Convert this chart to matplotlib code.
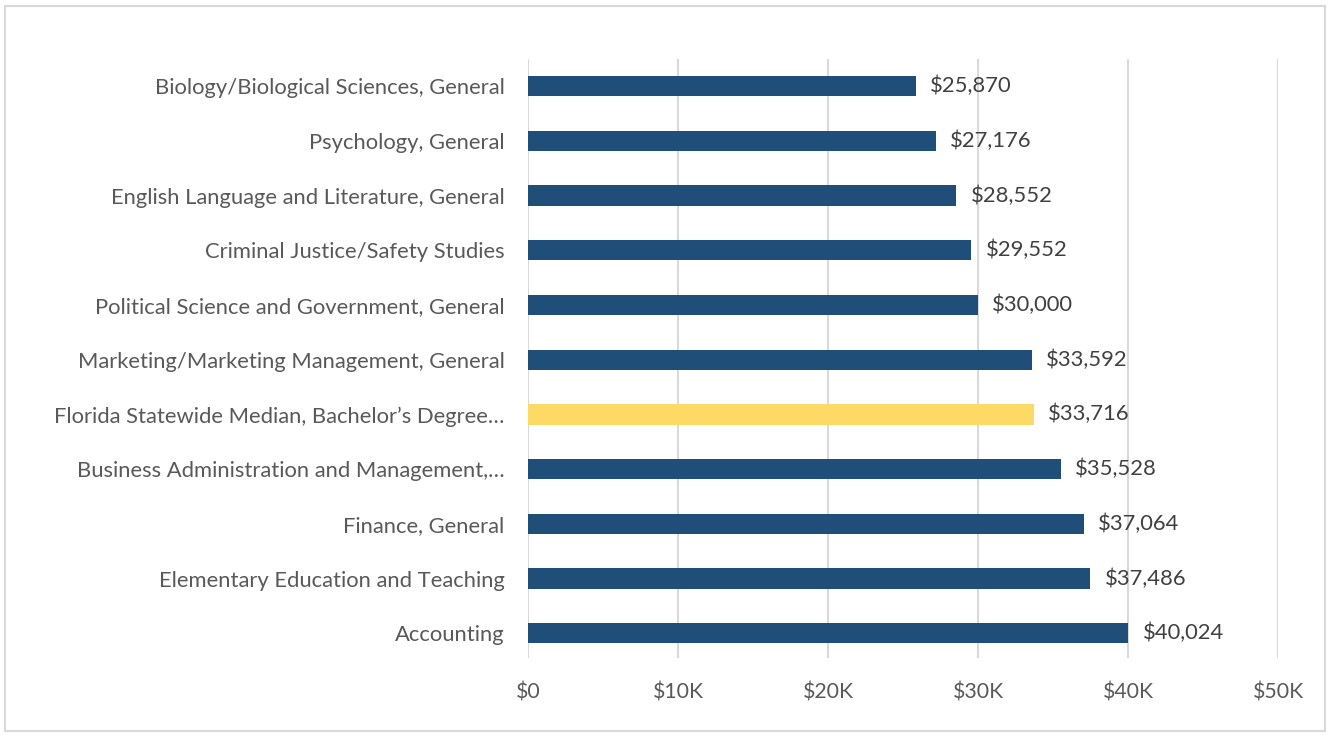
import numpy as np
import matplotlib.pyplot as plt
from matplotlib.patches import Rectangle
from matplotlib.ticker import FuncFormatter

majors = ['Biology/Biological Sciences, General', 'Psychology, General',
          'English Language and Literature, General', 'Criminal Justice/Safety Studies',
          'Political Science and Government, General', 'Marketing/Marketing Management, General',
          'Florida Statewide Median, Bachelor\u2019s Degree\u2026', 'Business Administration and Management,\u2026',
          'Finance, General', 'Elementary Education and Teaching', 'Accounting']
salary = [25870, 27176, 28552, 29552, 30000, 33592, 33716, 35528, 37064, 37486, 40024]
highlight = 'Florida Statewide Median, Bachelor\u2019s Degree\u2026'

plt.rcParams['font.family'] = ['Lato', 'DejaVu Sans']
fig = plt.figure(figsize=(13.3, 7.35), dpi=100)
ax = fig.add_axes([0.397, 0.105, 0.564, 0.815])

colors = ['#fdd966' if m == highlight else '#1f4e79' for m in majors]
y = np.arange(len(majors))
ax.barh(y, salary, height=0.37, color=colors, zorder=3)
for yi, v in zip(y, salary):
    ax.text(v + 950, yi, '${:,}'.format(v), va='center', ha='left', fontsize=15.8, color='#404040')

ax.set_yticks(y)
ax.set_yticklabels(majors, fontsize=15.8, color='#595959')
ax.set_ylim(-0.5, len(majors) - 0.55)
ax.invert_yaxis()
ax.set_xlim(0, 50000)
ax.set_xticks(np.arange(0, 50001, 10000))
ax.xaxis.set_major_formatter(FuncFormatter(lambda v, p: '$0' if v == 0 else '${:d}K'.format(int(v / 1000))))
ax.tick_params(axis='x', labelsize=15.3, labelcolor='#595959', length=0, pad=18)
ax.tick_params(axis='y', length=0, pad=17)
ax.grid(axis='x', color='#d9d9d9', lw=1.5, zorder=0)
for s in ax.spines.values():
    s.set_visible(False)

fig.patches.append(Rectangle((0.004, 0.006), 0.992, 0.986, transform=fig.transFigure,
                             fill=False, edgecolor='#d9d9d9', lw=1.5))
fig.savefig('out.png')
